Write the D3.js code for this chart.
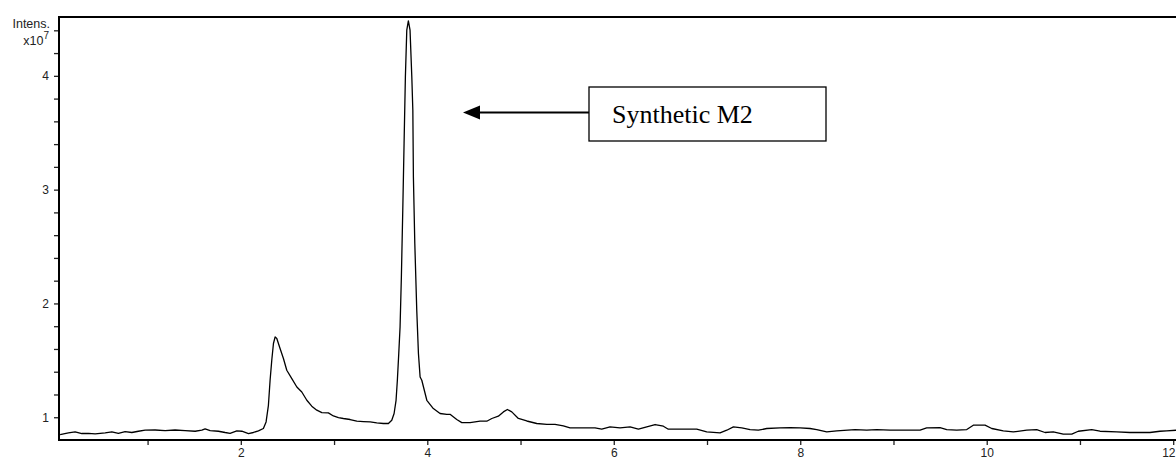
<!DOCTYPE html>
<html>
<head>
<meta charset="utf-8">
<script src="https://cdn.jsdelivr.net/npm/d3@7"></script>
<style>
  html, body { margin: 0; padding: 0; background: #fff; }
  svg { display: block; }
  .tick text { font-family: "Liberation Sans", Arial, sans-serif; font-size: 12px; fill: #222; }
</style>
</head>
<body>
<svg id="chart" width="1176" height="459"></svg>
<script>
// Retention time (min)
const timeMin = [
  0.062, 0.151, 0.223, 0.295, 0.366, 0.438, 0.545, 0.617, 0.687, 0.759,
  0.831, 0.902, 0.974, 1.081, 1.188, 1.295, 1.403, 1.510, 1.582, 1.617,
  1.671, 1.760, 1.832, 1.885, 1.957, 2.011, 2.082, 2.135, 2.189, 2.242,
  2.271, 2.296, 2.314, 2.332, 2.350, 2.368, 2.386, 2.421, 2.457, 2.493,
  2.547, 2.601, 2.654, 2.708, 2.761, 2.815, 2.869, 2.939, 2.993, 3.047,
  3.100, 3.172, 3.244, 3.315, 3.387, 3.458, 3.529, 3.583, 3.619, 3.644,
  3.665, 3.679, 3.694, 3.708, 3.722, 3.737, 3.751, 3.765, 3.780, 3.797,
  3.815, 3.834, 3.845, 3.851, 3.866, 3.887, 3.905, 3.923, 3.941, 3.995,
  4.065, 4.137, 4.209, 4.244, 4.316, 4.370, 4.459, 4.566, 4.638, 4.692,
  4.762, 4.816, 4.859, 4.906, 4.977, 5.067, 5.174, 5.282, 5.370, 5.459,
  5.531, 5.674, 5.799, 5.871, 5.960, 6.067, 6.175, 6.264, 6.354, 6.443,
  6.532, 6.585, 6.746, 6.890, 6.997, 7.140, 7.212, 7.283, 7.373, 7.462,
  7.551, 7.641, 7.783, 7.891, 7.998, 8.105, 8.177, 8.284, 8.391, 8.588,
  8.713, 8.820, 8.963, 9.285, 9.356, 9.499, 9.571, 9.678, 9.786, 9.856,
  9.982, 10.054, 10.178, 10.285, 10.429, 10.536, 10.625, 10.714, 10.821, 10.912,
  10.982, 11.126, 11.215, 11.394, 11.536, 11.751, 11.858, 11.930, 12.037
];

// Intensity (x10^7 counts)
const intensity = [
  0.848, 0.862, 0.871, 0.857, 0.859, 0.853, 0.862, 0.871, 0.859, 0.874,
  0.866, 0.877, 0.886, 0.888, 0.883, 0.888, 0.883, 0.877, 0.886, 0.897,
  0.883, 0.877, 0.866, 0.859, 0.880, 0.877, 0.857, 0.866, 0.880, 0.901,
  0.959, 1.105, 1.325, 1.501, 1.648, 1.706, 1.692, 1.604, 1.516, 1.413,
  1.340, 1.266, 1.222, 1.149, 1.097, 1.062, 1.041, 1.038, 1.011, 0.997,
  0.989, 0.980, 0.965, 0.962, 0.959, 0.950, 0.945, 0.945, 0.974, 1.033,
  1.149, 1.325, 1.560, 1.793, 2.233, 2.819, 3.408, 3.990, 4.401, 4.482,
  4.401, 3.990, 3.698, 3.112, 2.529, 1.940, 1.560, 1.354, 1.325, 1.149,
  1.076, 1.033, 1.026, 1.026, 0.980, 0.953, 0.953, 0.965, 0.965, 0.989,
  1.009, 1.047, 1.068, 1.047, 0.989, 0.967, 0.945, 0.938, 0.938, 0.924,
  0.906, 0.906, 0.906, 0.895, 0.915, 0.906, 0.915, 0.895, 0.915, 0.936,
  0.921, 0.895, 0.895, 0.895, 0.871, 0.862, 0.886, 0.915, 0.906, 0.892,
  0.886, 0.901, 0.906, 0.909, 0.906, 0.901, 0.892, 0.871, 0.880, 0.892,
  0.886, 0.892, 0.886, 0.886, 0.906, 0.909, 0.892, 0.886, 0.892, 0.930,
  0.930, 0.901, 0.880, 0.871, 0.886, 0.892, 0.866, 0.871, 0.851, 0.851,
  0.877, 0.892, 0.877, 0.871, 0.866, 0.866, 0.877, 0.880, 0.886
];

const xTickValues = [1, 2, 3, 4, 5, 6, 7, 8, 9, 10, 11, 12];
const xTickLabels = ["", "2", "", "4", "", "6", "", "8", "", "10", "", "12"];
const yTickValues = [1.0, 1.2, 1.4, 1.6, 1.8, 2.0, 2.2, 2.4, 2.6, 2.8, 3.0, 3.2, 3.4, 3.6, 3.8, 4.0, 4.2, 4.4];
const yAxisTitle = "Intens.";
const yAxisUnit = "x10";
const yAxisExp = "7";
const annotationText = "Synthetic M2";

const svg = d3.select("#chart");
const plotLeft = 59, plotRight = 1176, plotTop = 17, plotBottom = 440;

const x = d3.scaleLinear().domain([0.05, 12.03]).range([plotLeft, plotRight]);
const y = d3.scaleLinear().domain([0.8, 4.517]).range([plotBottom, plotTop]);

// Y axis with minor ticks every 0.2, labels on integers
const yAxis = d3.axisLeft(y)
  .tickValues(yTickValues)
  .tickSize(5)
  .tickSizeOuter(0)
  .tickFormat(v => Math.abs(v - Math.round(v)) < 1e-6 ? d3.format("d")(Math.round(v)) : "");
const gy = svg.append("g").attr("transform", `translate(${plotLeft},0)`).call(yAxis);
gy.select(".domain").remove();
gy.selectAll(".tick line").attr("stroke", "#222").attr("stroke-width", 1.3);
gy.selectAll(".tick text").attr("x", -10);

// X axis
const xAxis = d3.axisBottom(x)
  .tickValues(xTickValues)
  .tickSize(5)
  .tickSizeOuter(0)
  .tickFormat((d, i) => xTickLabels[i]);
const gx = svg.append("g").attr("transform", `translate(0,${plotBottom})`).call(xAxis);
gx.select(".domain").remove();
gx.selectAll(".tick line").attr("stroke", "#222").attr("stroke-width", 1.3);
gx.selectAll(".tick text").attr("y", 8);
// the last label sits against the right edge, so anchor it there
gx.selectAll(".tick text").filter(d => x(d) + 8 > plotRight)
  .attr("text-anchor", "end")
  .attr("dx", plotRight - 1 - x(12));

// Frame: top, left and bottom lines
svg.append("path")
  .attr("d", `M${plotRight},${plotTop}H${plotLeft}V${plotBottom}H${plotRight}`)
  .attr("fill", "none").attr("stroke", "#000").attr("stroke-width", 2);

// Axis title
const title = svg.append("g")
  .attr("font-family", "'Liberation Sans', Arial, sans-serif")
  .attr("font-size", 12.5)
  .attr("fill", "#222")
  .attr("text-anchor", "end");
title.append("text").attr("x", 50).attr("y", 28).text(yAxisTitle);
const unit = title.append("text").attr("x", 49).attr("y", 45);
unit.append("tspan").text(yAxisUnit);
unit.append("tspan").attr("dy", -6).attr("font-size", 10).text(yAxisExp);

// Chromatogram trace
const points = timeMin.map((t, i) => [t, intensity[i]]);
const line = d3.line().x(d => x(d[0])).y(d => y(d[1]));
svg.append("path")
  .datum(points)
  .attr("fill", "none")
  .attr("stroke", "#000")
  .attr("stroke-width", 1.3)
  .attr("stroke-linejoin", "round")
  .attr("d", line);

// Annotation box with arrow
const boxX = 589, boxY = 87, boxW = 237, boxH = 54;
const arrowY = 112.5, tipX = 463;
const ann = svg.append("g");
ann.append("rect")
  .attr("x", boxX).attr("y", boxY).attr("width", boxW).attr("height", boxH)
  .attr("fill", "#fff").attr("stroke", "#000").attr("stroke-width", 1.3);
ann.append("text")
  .attr("x", boxX + 23).attr("y", boxY + 36)
  .attr("font-family", "'Liberation Serif', 'Times New Roman', serif")
  .attr("font-size", 26)
  .attr("fill", "#000")
  .text(annotationText);
ann.append("line")
  .attr("x1", boxX).attr("y1", arrowY).attr("x2", tipX + 14).attr("y2", arrowY)
  .attr("stroke", "#000").attr("stroke-width", 2);
ann.append("path")
  .attr("d", `M${tipX},${arrowY}L${tipX + 17},${arrowY - 7}L${tipX + 17},${arrowY + 7}Z`)
  .attr("fill", "#000");
</script>
</body>
</html>
